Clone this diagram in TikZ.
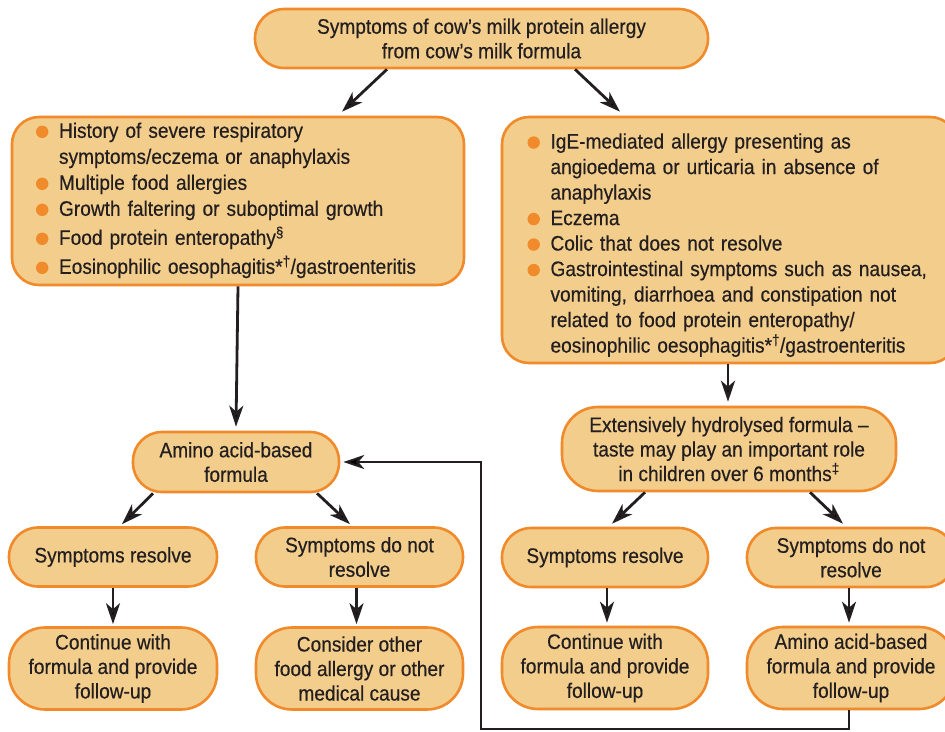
\documentclass[tikz,border=0pt]{standalone}
\usepackage{fontspec}
\setmainfont{Liberation Sans}[FakeStretch=0.91,FakeBold=0.4]
\usetikzlibrary{arrows.meta,calc}
\definecolor{boxfill}{HTML}{F2CD8B}
\definecolor{boxline}{HTML}{F08A2A}
\definecolor{ink}{HTML}{231F20}
\newcommand\bmark{\tikz[baseline=0pt,x=1pt,y=1pt]\fill[boxline] (6.2,6) circle[radius=6.2];}
\newcommand\bitem[1]{\par\hangindent=23pt\hangafter=1\noindent\makebox[23pt][l]{\bmark}#1}
\tikzset{
  box/.style={draw=boxline, line width=2.6pt, fill=boxfill, text=ink, inner sep=0pt,
    font=\fontsize{21}{24.5}\selectfont},
  cbox/.style={box, align=center},
  pill/.style={cbox, rounded corners=29pt, minimum height=59pt},
  tall/.style={cbox, rounded corners=36pt, minimum height=82pt},
  listbox/.style={box, rounded corners=27pt, text width=404pt, align=left},
  arr/.style={draw=ink, line width=2.8pt, -{Stealth[length=21pt,width=14pt,inset=6pt]}},
}
\begin{document}
\begin{tikzpicture}[x=1pt,y=-1pt]
\fill[white] (0,0) rectangle (945,731);
\useasboundingbox (0,0) rectangle (945,731);

\node[pill, minimum width=453pt] (T) at (481.5,38.5)
  {Symptoms of cow’s milk protein allergy\\from cow’s milk formula};

\node[listbox, minimum width=452pt, minimum height=168pt,
      font=\fontsize{21}{26}\selectfont] (L) at (238,201) {\hyphenpenalty=10000
  \vspace*{-6pt}
  \bitem{History of severe respiratory\newline symptoms/eczema or anaphylaxis}
  \bitem{Multiple food allergies}
  \bitem{Growth faltering or suboptimal growth}
  \vspace{3pt}\bitem{Food protein enteropathy\textsuperscript{§}}
  \vspace{3pt}\bitem{Eosinophilic oesophagitis*\textsuperscript{†}/gastroenteritis}\par\vspace{6pt}};

\node[listbox, minimum width=455pt, minimum height=246pt,
      font=\fontsize{21}{25.5}\selectfont] (R) at (729.5,240) {\hyphenpenalty=10000
  \bitem{IgE-mediated allergy presenting as\newline angioedema or urticaria in absence of\newline anaphylaxis}
  \bitem{Eczema}
  \bitem{Colic that does not resolve}
  \bitem{Gastrointestinal symptoms such as nausea,\newline vomiting, diarrhoea and constipation not\newline related to food protein enteropathy/\newline eosinophilic oesophagitis*\textsuperscript{†}/gastroenteritis}\par};

\node[pill, minimum width=206pt, minimum height=60pt] (A) at (236,462) {Amino acid-based\\formula};
\node[pill, minimum width=208pt] (SR) at (113,557) {Symptoms resolve};
\node[pill, minimum width=207pt] (SN) at (359.5,557) {Symptoms do not\\resolve};
\node[tall, minimum width=208pt] (CL) at (113,668.5) {Continue with\\formula and provide\\follow-up};
\node[tall, minimum width=207pt] (CO) at (359.5,668.5) {Consider other\\food allergy or other\\medical cause};

\node[tall, minimum width=334pt, minimum height=84pt] (E) at (729,449)
  {Extensively hydrolysed formula –\\taste may play an important role\\in children over 6 months\textsuperscript{‡}};
\node[pill, minimum width=206pt] (SR2) at (605,557.5) {Symptoms resolve};
\node[pill, minimum width=208pt] (SN2) at (851,557.5) {Symptoms do not\\resolve};
\node[tall, minimum width=206pt] (CR2) at (605,668) {Continue with\\formula and provide\\follow-up};
\node[tall, minimum width=208pt] (AR) at (851,668) {Amino acid-based\\formula and provide\\follow-up};

\draw[arr] ([xshift=-94.5pt]T.south) -- ([xshift=104pt,yshift=4pt]L.north);
\draw[arr] ([xshift=93.5pt]T.south) -- ([xshift=-109.5pt,yshift=4pt]R.north);
\draw[arr] (L.south) -- ([yshift=4pt]A.north);
\draw[arr] ([xshift=-83pt]A.south) -- ([xshift=9pt,yshift=2pt]SR.north);
\draw[arr] ([xshift=81pt]A.south) -- ([xshift=-9.5pt,yshift=2pt]SN.north);
\draw[arr] (SR.south) -- ([yshift=2pt]CL.north);
\draw[arr] ([xshift=-3pt]SN.south) -- ([xshift=-3pt,yshift=2pt]CO.north);
\draw[arr] ([xshift=-1.5pt]R.south) -- ([xshift=-1pt,yshift=4pt]E.north);
\draw[arr] ([xshift=-84pt]E.south) -- ([xshift=7pt,yshift=3pt]SR2.north);
\draw[arr] ([xshift=81pt]E.south) -- ([xshift=-8pt,yshift=3pt]SN2.north);
\draw[arr] ([xshift=2pt]SR2.south) -- ([xshift=2pt,yshift=3pt]CR2.north);
\draw[arr] ([xshift=-2pt]SN2.south) -- ([xshift=-2pt,yshift=3pt]AR.north);
\coordinate (loopc) at (481,729);
\draw[arr, line width=2pt] ([xshift=-2pt]AR.south) |- (loopc) |- ([xshift=3pt]A.east);
\end{tikzpicture}
\end{document}
